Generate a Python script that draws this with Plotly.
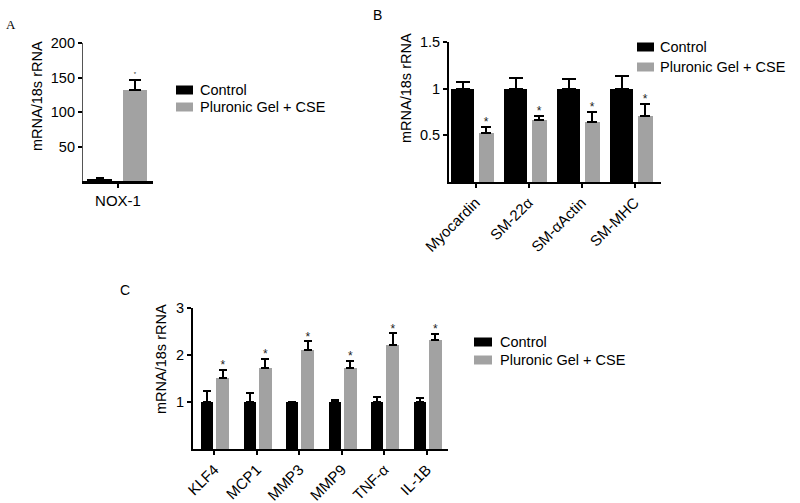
import plotly.graph_objects as go

# ---------------- data ----------------
series_names = ["Control", "Pluronic Gel + CSE"]
y_title = "mRNA/18s rRNA"

A_categories = ["NOX-1"]
A_control = [2.5]
A_control_err = [1.5]
A_treat = [132]
A_treat_err = [14]

B_categories = ["Myocardin", "SM-22α", "SM-αActin", "SM-MHC"]
B_control = [1.0, 1.0, 1.0, 1.0]
B_control_err = [0.07, 0.115, 0.10, 0.135]
B_treat = [0.525, 0.665, 0.64, 0.71]
B_treat_err = [0.065, 0.04, 0.11, 0.13]

C_categories = ["KLF4", "MCP1", "MMP3", "MMP9", "TNF-α", "IL-1B"]
C_control = [1.0, 1.0, 1.0, 1.0, 1.0, 1.0]
C_control_err = [0.24, 0.19, 0.0, 0.05, 0.10, 0.08]
C_treat = [1.52, 1.72, 2.11, 1.72, 2.22, 2.32]
C_treat_err = [0.17, 0.20, 0.18, 0.15, 0.24, 0.13]

A_yticks = [50, 100, 150, 200]
B_yticks = [0.5, 1.0, 1.5]
B_yticklabels = ["0.5", "1", "1.5"]
C_yticks = [1, 2, 3]

# ---------------- style ----------------
W, H = 800, 503
BLACK = "#000000"
GRAY = "#a2a2a2"
COLORS = [BLACK, GRAY]
FONT = "Liberation Sans, Arial, sans-serif"

def px_x(v):
    return v / W

def px_y(v):
    return 1 - v / H

fig = go.Figure()

panels = [
    dict(cats=A_categories, c=A_control, ce=A_control_err, t=A_treat, te=A_treat_err,
         ax="", cpos=(-0.26, 0.36), tpos=(0.24, 0.34), caps=(4, 6), star=6, gap=9,
         legend=dict(sx=(176, 193), rows=(90, 107), tx=198), title_xy=(37, 96)),
    dict(cats=B_categories, c=B_control, ce=B_control_err, t=B_treat, te=B_treat_err,
         ax="2", cpos=(-0.245, 0.45), tpos=(0.20, 0.28), caps=(7, 5), star=12, gap=0.04,
         legend=dict(sx=(637, 654), rows=(47, 67), tx=658), title_xy=(406, 88)),
    dict(cats=C_categories, c=C_control, ce=C_control_err, t=C_treat, te=C_treat_err,
         ax="3", cpos=(-0.165, 0.29), tpos=(0.20, 0.30), caps=(4, 4), star=12, gap=0.08,
         legend=dict(sx=(474, 492), rows=(342, 360), tx=498), title_xy=(161, 359)),
]

shapes = []
annotations = []

for p in panels:
    n = len(p["cats"])
    idx = list(range(n))
    xa = "x" + p["ax"]
    ya = "y" + p["ax"]
    for vals, errs, (off, wd), col, name, cap in [
        (p["c"], p["ce"], p["cpos"], COLORS[0], series_names[0], p["caps"][0]),
        (p["t"], p["te"], p["tpos"], COLORS[1], series_names[1], p["caps"][1]),
    ]:
        fig.add_trace(go.Bar(
            x=[i + off for i in idx], y=vals, width=[wd] * n,
            marker=dict(color=col, line=dict(width=0)),
            error_y=dict(type="data", array=errs, arrayminus=[0] * n, symmetric=False,
                         color=BLACK, thickness=2, width=cap, visible=True),
            name=name, xaxis=xa, yaxis=ya, showlegend=False,
        ))
    toff = p["tpos"][0]
    fig.add_trace(go.Scatter(
        x=[i + toff for i in idx],
        y=[v + e + p["gap"] for v, e in zip(p["t"], p["te"])],
        mode="text", text=["*"] * n, textposition="middle center",
        textfont=dict(size=p["star"], color="#222222", family=FONT),
        xaxis=xa, yaxis=ya, showlegend=False, hoverinfo="skip",
    ))
    # legend (swatch + label) for this panel
    lg = p["legend"]
    for name, col, ry in zip(series_names, COLORS, lg["rows"]):
        shapes.append(dict(type="rect", xref="paper", yref="paper",
                           x0=px_x(lg["sx"][0]), x1=px_x(lg["sx"][1]),
                           y0=px_y(ry + 4.5), y1=px_y(ry - 4.5),
                           fillcolor=col, line=dict(width=0)))
        annotations.append(dict(text=name, x=px_x(lg["tx"]), y=px_y(ry), xref="paper",
                                yref="paper", xanchor="left", yanchor="middle",
                                showarrow=False,
                                font=dict(family=FONT, size=14.5, color=BLACK)))
    # y-axis title
    tx, ty = p["title_xy"]
    annotations.append(dict(text=y_title, x=px_x(tx), y=px_y(ty), xref="paper", yref="paper",
                            xanchor="center", yanchor="middle", textangle=-90,
                            showarrow=False, font=dict(family=FONT, size=14.5, color=BLACK)))

axis_common = dict(ticks="outside", showline=True, tickcolor=BLACK, tickwidth=1.5, ticklen=4,
                   showgrid=False, zeroline=False, automargin=False)

ytick_font = dict(family=FONT, size=14.5, color=BLACK)
xtick_font = dict(family=FONT, size=15, color=BLACK)

annotations += [
    dict(text="A", x=px_x(11), y=px_y(25), xref="paper", yref="paper", showarrow=False,
         xanchor="center", yanchor="middle",
         font=dict(family="Liberation Serif, Times New Roman, serif", size=13, color=BLACK)),
    dict(text="B", x=px_x(377), y=px_y(15), xref="paper", yref="paper", showarrow=False,
         xanchor="center", yanchor="middle", font=dict(family=FONT, size=14, color=BLACK)),
    dict(text="C", x=px_x(125), y=px_y(290), xref="paper", yref="paper", showarrow=False,
         xanchor="center", yanchor="middle", font=dict(family=FONT, size=14, color=BLACK)),
]

fig.update_layout(
    width=W, height=H, margin=dict(l=0, r=0, t=0, b=0, autoexpand=False),
    paper_bgcolor="white", plot_bgcolor="white",
    barmode="overlay", bargap=0, showlegend=False,
    font=dict(family=FONT, color=BLACK),
    xaxis=dict(domain=[px_x(83), px_x(153)], range=[-0.5, 0.5], tickvals=[0],
               ticktext=A_categories, anchor="y", tickangle=0, tickfont=xtick_font,
               linecolor=BLACK, linewidth=2.5, **axis_common),
    yaxis=dict(domain=[px_y(181), px_y(43)], range=[0, 200], tickvals=A_yticks,
               anchor="x", tickfont=ytick_font, linecolor="#555555", linewidth=1.2,
               **axis_common),
    xaxis2=dict(domain=[px_x(449), px_x(661)], range=[-0.5, len(B_categories) - 0.5],
                tickvals=list(range(len(B_categories))), ticktext=B_categories,
                anchor="y2", tickangle=-45, tickfont=xtick_font,
                linecolor=BLACK, linewidth=2, **axis_common),
    yaxis2=dict(domain=[px_y(182), px_y(42)], range=[0, 1.5], tickvals=B_yticks,
                ticktext=B_yticklabels, anchor="x2", tickfont=ytick_font,
                linecolor=BLACK, linewidth=2, **axis_common),
    xaxis3=dict(domain=[px_x(193), px_x(448)], range=[-0.5, len(C_categories) - 0.5],
                tickvals=list(range(len(C_categories))), ticktext=C_categories,
                anchor="y3", tickangle=-45, tickfont=xtick_font,
                linecolor=BLACK, linewidth=2, **axis_common),
    yaxis3=dict(domain=[px_y(449), px_y(308)], range=[0, 3], tickvals=C_yticks,
                anchor="x3", tickfont=ytick_font, linecolor=BLACK, linewidth=2,
                **axis_common),
    shapes=shapes,
    annotations=annotations,
)

# remove the default page margin so the figure fills the 800x503 window exactly
fig.write_html("out.html", config={"displayModeBar": False},
               post_script="document.body.style.margin='0';document.body.style.overflow='hidden';")
